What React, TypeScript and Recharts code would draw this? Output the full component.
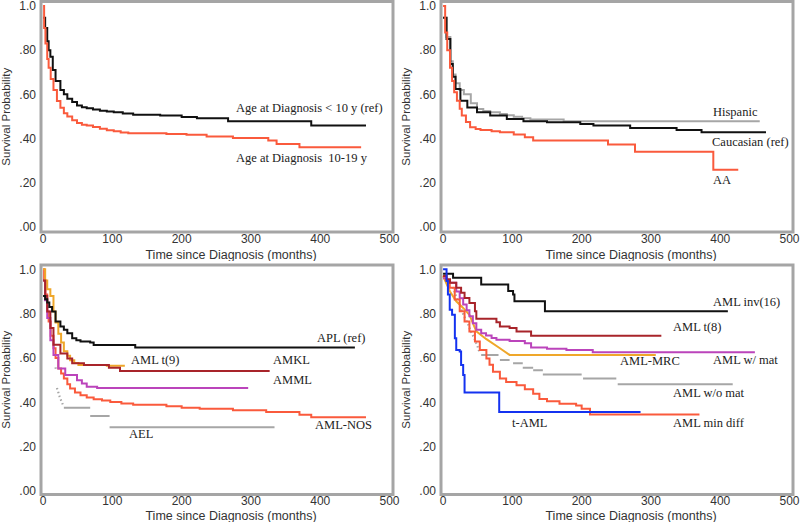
import React from 'react';
import { LineChart, Line, XAxis, YAxis, ReferenceArea } from 'recharts';

type Pt = [number, number | null];

// panel 1: age at diagnosis
const ageUnder10: Pt[] = [[0,0.947],[3,0.9],[6,0.84],[8,0.8],[10.5,0.77],[14,0.71],[18,0.66],[25,0.62],[30,0.6],[35,0.58],[42,0.565],[49,0.55],[56,0.542],[63,0.537],[72,0.531],[82,0.526],[92,0.522],[102,0.519],[115,0.513],[130,0.508],[169,0.504],[200,0.498],[222,0.492],[267,0.478],[387,0.459],[466,0.459]];
const age10to19: Pt[] = [[0,1],[1.5,0.9],[3.4,0.83],[6,0.76],[8,0.72],[11,0.67],[15,0.62],[20,0.57],[25,0.54],[30,0.515],[35,0.5],[42,0.483],[49,0.47],[56,0.463],[63,0.459],[72,0.452],[82,0.444],[92,0.438],[102,0.433],[112,0.428],[123,0.424],[178,0.421],[207,0.417],[236,0.409],[274,0.403],[325,0.391],[337,0.376],[370,0.361],[459,0.361]];

// panel 2: ethnicity
const hispanic: Pt[] = [[0,0.947],[5,0.86],[10.5,0.75],[14,0.69],[18,0.65],[24,0.62],[30,0.6],[40,0.56],[49,0.534],[58,0.525],[68,0.519],[82,0.511],[92,0.505],[102,0.499],[114,0.492],[126,0.486],[174,0.478],[457,0.478]];
const caucasian: Pt[] = [[0,0.947],[5,0.85],[10.5,0.737],[14,0.68],[18,0.624],[25,0.571],[35,0.541],[49,0.519],[68,0.504],[92,0.489],[116,0.478],[150,0.474],[198,0.466],[217,0.459],[270,0.448],[337,0.439],[373,0.429],[466,0.429]];
const africanAm: Pt[] = [[0,1],[3,0.88],[6,0.8],[10,0.72],[13,0.66],[16,0.61],[20,0.571],[24,0.535],[27,0.504],[33,0.475],[39,0.451],[47,0.443],[54,0.439],[70,0.433],[82,0.429],[102,0.418],[118,0.406],[130,0.391],[238,0.373],[277,0.341],[390,0.259],[426,0.259]];

// panel 3: FAB / subtype
const apl: Pt[] = [[0,0.88],[3,0.865],[6,0.85],[9,0.83],[13,0.81],[18,0.765],[25,0.742],[30,0.727],[35,0.712],[42,0.689],[48,0.68],[54,0.674],[68,0.67],[73,0.659],[133,0.648],[450,0.648]];
const amlT9: Pt[] = [[0,1],[3,0.95],[6,0.91],[10.5,0.88],[15,0.81],[18,0.76],[22,0.71],[26,0.67],[30,0.63],[35,0.61],[39,0.59],[45,0.578],[51,0.568],[92,0.565],[118,0.565]];
const amkl: Pt[] = [[0,0.95],[3,0.88],[6,0.81],[10.5,0.735],[15,0.66],[25,0.62],[35,0.598],[42,0.576],[59,0.568],[95,0.556],[111,0.541],[327,0.541]];
const amml: Pt[] = [[0,0.95],[3,0.86],[6,0.78],[10.5,0.68],[15,0.614],[22,0.553],[32,0.523],[49,0.5],[56,0.485],[63,0.47],[78,0.465],[296,0.465]];
const amlNos: Pt[] = [[0,1],[1.5,0.95],[3.4,0.886],[6,0.81],[8,0.765],[11,0.7],[15,0.644],[18,0.6],[22,0.553],[26,0.53],[30,0.508],[35,0.482],[39,0.462],[46,0.445],[54,0.432],[63,0.422],[73,0.414],[85,0.408],[97,0.402],[113,0.395],[130,0.389],[178,0.383],[200,0.376],[226,0.371],[274,0.364],[322,0.356],[370,0.344],[387,0.333],[466,0.333]];
const aelEarly: Pt[] = [[18,0.558],[18.6,0.548],[19,null],[20,0.465],[24,0.425],[29,0.386]];
const ael: Pt[] = [[30,0.376],[68,0.376],[68,null],[68,0.338],[96,0.338],[96,null],[96,0.288],[334,0.288]];

// panel 4: cytogenetics
const inv16: Pt[] = [[0,0.98],[14.4,0.962],[55,0.932],[94,0.902],[101,0.886],[103,0.856],[147,0.811],[411,0.811]];
const amlT8: Pt[] = [[0,0.97],[5,0.955],[10,0.94],[19,0.917],[26,0.894],[31,0.871],[38,0.848],[46,0.811],[48,0.777],[77,0.761],[82,0.742],[96,0.735],[106,0.72],[127,0.7],[315,0.7]];
const withMat: Pt[] = [[0,0.96],[5,0.95],[10,0.94],[19,0.9],[24,0.87],[29,0.841],[34,0.815],[38,0.788],[43,0.757],[48,0.727],[55,0.712],[62,0.702],[70,0.69],[77,0.682],[96,0.677],[118,0.667],[127,0.647],[150,0.642],[178,0.636],[216,0.626],[450,0.626]];
const mrc: Pt[] = [[0,0.97],[10,0.9],[19,0.856],[29,0.826],[38,0.795],[48,0.72],[62,0.686],[82,0.644],[96,0.614],[307,0.614]];
const withoutMatEarly: Pt[] = [[14,0.92],[20,0.87],[25,0.83],[30,0.79],[35,0.76],[40,0.72],[45,0.69],[50,0.65],[53,0.62]];
const withoutMat: Pt[] = [[55,0.614],[80,0.614],[80,null],[82,0.591],[96,0.591],[96,null],[101,0.576],[115,0.576],[115,null],[115,0.556],[130,0.556],[130,null],[130,0.545],[144,0.545],[144,null],[144,0.526],[200,0.526],[200,null],[202,0.508],[250,0.508],[250,null],[252,0.482],[418,0.482]];
const minDiff: Pt[] = [[0,0.97],[5,0.95],[9.6,0.917],[16.8,0.864],[24,0.811],[31,0.765],[38,0.72],[46,0.674],[53,0.636],[62.5,0.598],[67,0.57],[72,0.538],[82,0.508],[91,0.492],[106,0.477],[118,0.459],[130,0.439],[139,0.415],[150,0.405],[168,0.394],[192,0.386],[200,0.371],[212,0.345],[370,0.345]];
const tAml: Pt[] = [[0,1],[5,0.947],[7,0.886],[9.6,0.818],[13,0.795],[17,0.689],[19,0.636],[24,0.629],[26,0.568],[29,0.523],[31,0.444],[81,0.356],[285,0.356]];

const xTicks = [0, 100, 200, 300, 400, 500];
const yTicks = [0, 0.2, 0.4, 0.6, 0.8, 1];

const BLACK = '#111111';
const SALMON = '#fa5a3c';
const GRAY = '#a6a6a6';
const DARKRED = '#a8242a';
const MAGENTA = '#bb44bb';
const ORANGE = '#efa72a';
const BLUE = '#1432f0';

interface Series {
  pts: Pt[];
  color: string;
  type?: 'stepAfter' | 'linear';
  dash?: string;
}

interface Note {
  text: string;
  x: number;
  y: number;
}

interface PanelProps {
  series: Series[];
  notes: Note[];
  top: number;
  yDomain: [number, number];
}

const toRows = (pts: Pt[]) => pts.map(([t, s]) => ({ t, s }));

const fmtY = (v: number) => (v === 1 ? '1.0' : '.' + String(Math.round(v * 100)).padStart(2, '0'));

const tickStyle = { fill: '#333', fontSize: 12, fontFamily: 'Liberation Sans, Arial, sans-serif' };

const Panel: React.FC<PanelProps> = ({ series, notes, top, yDomain }) => (
  <div style={{ position: 'relative', width: 400, height: 261 }}>
    <LineChart width={400} height={261} margin={{ top, right: 7, bottom: 0, left: 0 }}>
      <XAxis
        type="number"
        dataKey="t"
        domain={[-3, 505]}
        ticks={xTicks}
        interval={0}
        allowDataOverflow
        tickLine={false}
        axisLine={false}
        tickSize={0}
        tickMargin={2}
        tick={tickStyle}
        height={261 - 232 - top + (top > 2 ? 2.5 : 1.5)}
        label={{
          value: 'Time since Diagnosis (months)',
          position: 'insideBottom',
          offset: 2,
          dx: 14,
          style: { fill: '#333', fontSize: 12.5, fontFamily: 'Liberation Sans, Arial, sans-serif' },
        }}
      />
      <YAxis
        type="number"
        domain={yDomain}
        ticks={yTicks}
        interval={0}
        allowDataOverflow
        tickFormatter={fmtY}
        tickLine={false}
        axisLine={false}
        tickSize={0}
        tickMargin={5}
        tick={tickStyle}
        width={41}
        label={{
          value: 'Survival Probability',
          angle: -90,
          position: 'insideLeft',
          offset: 6,
          style: { textAnchor: 'middle', fill: '#333', fontSize: 11.5, fontFamily: 'Liberation Sans, Arial, sans-serif' },
        }}
      />
      <ReferenceArea
        x1={-3}
        x2={505}
        y1={yDomain[0]}
        y2={yDomain[1]}
        fill="none"
        stroke="#a5a5a5"
        strokeWidth={3}
        ifOverflow="visible"
      />
      {series.map((s, i) => (
        <Line
          key={i}
          data={toRows(s.pts)}
          dataKey="s"
          type={s.type ?? 'stepAfter'}
          stroke={s.color}
          strokeWidth={s.dash ? 2.2 : 2}
          strokeDasharray={s.dash}
          dot={false}
          activeDot={false}
          isAnimationActive={false}
        />
      ))}
    </LineChart>
    {notes.map((n, i) => (
      <div
        key={i}
        style={{
          position: 'absolute',
          left: n.x,
          top: n.y,
          transform: 'translateY(-50%)',
          fontFamily: 'Liberation Serif, Times New Roman, serif',
          fontSize: 12.5,
          lineHeight: 1,
          color: '#222',
          whiteSpace: 'pre',
        }}
      >
        {n.text}
      </div>
    ))}
  </div>
);

const topDomain: [number, number] = [-0.0225, 1.02];
const bottomDomain: [number, number] = [-0.0155, 1.0195];

export default function App() {
  return (
    <div style={{ position: 'absolute', left: 0, top: 0, width: 800, height: 522, background: '#fff', display: 'flex', flexWrap: 'wrap' }}>
      <Panel
        top={1.5}
        yDomain={topDomain}
        series={[
          { pts: ageUnder10, color: BLACK },
          { pts: age10to19, color: SALMON },
        ]}
        notes={[
          { text: 'Age at Diagnosis < 10 y (ref)', x: 236, y: 108 },
          { text: 'Age at Diagnosis  10-19 y', x: 236, y: 158 },
        ]}
      />
      <Panel
        top={1.5}
        yDomain={topDomain}
        series={[
          { pts: hispanic, color: GRAY },
          { pts: caucasian, color: BLACK },
          { pts: africanAm, color: SALMON },
        ]}
        notes={[
          { text: 'Hispanic', x: 313, y: 112 },
          { text: 'Caucasian (ref)', x: 312, y: 142 },
          { text: 'AA', x: 313, y: 180 },
        ]}
      />
      <Panel
        top={4}
        yDomain={bottomDomain}
        series={[
          { pts: aelEarly, color: GRAY, type: 'linear', dash: '1.5 2.5' },
          { pts: ael, color: GRAY },
          { pts: amlNos, color: SALMON },
          { pts: amml, color: MAGENTA },
          { pts: amlT9, color: ORANGE },
          { pts: amkl, color: DARKRED },
          { pts: apl, color: BLACK },
        ]}
        notes={[
          { text: 'APL (ref)', x: 317, y: 77 },
          { text: 'AML t(9)', x: 131, y: 99 },
          { text: 'AMKL', x: 273, y: 99 },
          { text: 'AMML', x: 273, y: 119 },
          { text: 'AML-NOS', x: 315, y: 164 },
          { text: 'AEL', x: 129, y: 173 },
        ]}
      />
      <Panel
        top={4}
        yDomain={bottomDomain}
        series={[
          { pts: withoutMatEarly, color: GRAY, type: 'linear', dash: '1.5 2.5' },
          { pts: withoutMat, color: GRAY },
          { pts: mrc, color: ORANGE, type: 'linear' },
          { pts: withMat, color: MAGENTA },
          { pts: minDiff, color: SALMON },
          { pts: amlT8, color: DARKRED },
          { pts: inv16, color: BLACK },
          { pts: tAml, color: BLUE },
        ]}
        notes={[
          { text: 'AML inv(16)', x: 313, y: 41 },
          { text: 'AML t(8)', x: 273, y: 66 },
          { text: 'AML w/ mat', x: 313, y: 99 },
          { text: 'AML-MRC', x: 220, y: 100 },
          { text: 'AML w/o mat', x: 273, y: 132 },
          { text: 't-AML', x: 112, y: 162 },
          { text: 'AML min diff', x: 273, y: 162 },
        ]}
      />
    </div>
  );
}
